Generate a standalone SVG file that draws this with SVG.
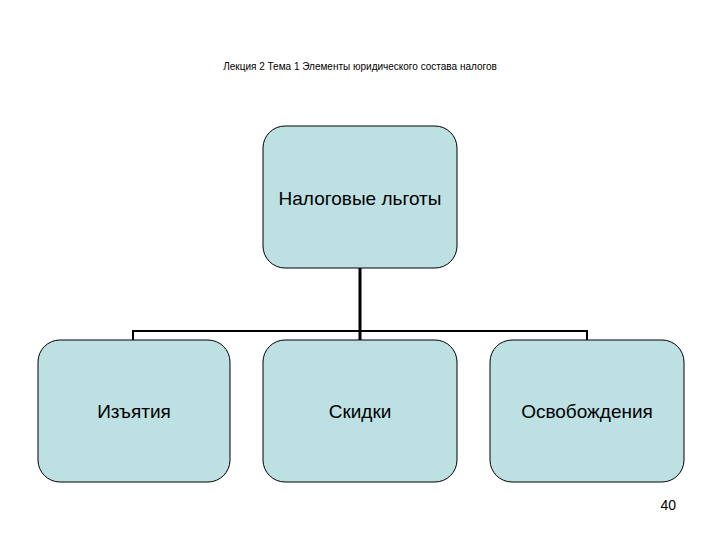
<svg xmlns="http://www.w3.org/2000/svg" width="720" height="540" viewBox="0 0 720 540">
<style>
.box{fill:#bde0e3;stroke:#000;stroke-width:1}
.t{font-family:"Liberation Sans",Arial,sans-serif;font-size:19px;text-anchor:middle;fill:#000}
.c{stroke:#000;fill:none}
</style>
<rect width="720" height="540" fill="#fff"/>
<text x="360" y="70" font-family="Liberation Sans,Arial,sans-serif" font-size="10" text-anchor="middle">Лекция 2 Тема 1 Элементы юридического состава налогов</text>
<g id="connectors">
<line class="c" x1="360" y1="268" x2="360" y2="340" stroke-width="3"/>
<polyline class="c" points="133,340 133,331 587,331 587,340" stroke-width="2"/>
</g>
<g id="n0"><rect class="box" x="263" y="126" width="194" height="142" rx="22"/><text class="t" x="360" y="205">Налоговые льготы</text></g>
<g id="n1"><rect class="box" x="38" y="340" width="192" height="142" rx="22"/><text class="t" x="134" y="418">Изъятия</text></g>
<g id="n2"><rect class="box" x="263" y="340" width="194" height="142" rx="22"/><text class="t" x="360" y="418">Скидки</text></g>
<g id="n3"><rect class="box" x="490" y="340" width="194" height="142" rx="22"/><text class="t" x="587" y="418">Освобождения</text></g>
<text x="676" y="510" font-family="Liberation Sans,Arial,sans-serif" font-size="14" text-anchor="end">40</text>
</svg>
